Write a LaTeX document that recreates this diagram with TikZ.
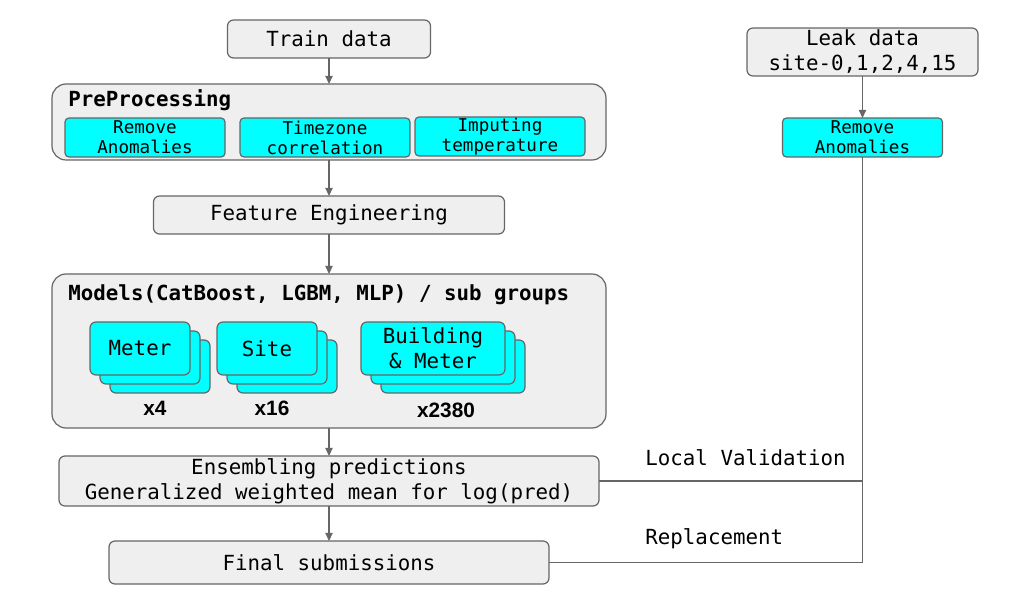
\documentclass[tikz,border=0pt]{standalone}
\usepackage{fontspec}
\setmonofont{DejaVu Sans Mono}
\newfontfamily\countfont{Liberation Sans}
\usepackage{tikz}
\usetikzlibrary{arrows.meta,positioning,shadows}
\definecolor{boxgray}{HTML}{EFEFEF}
\definecolor{edgegray}{HTML}{666666}
\definecolor{boxcyan}{HTML}{00FFFF}
\newcommand{\mainsize}{\fontsize{10.4pt}{12.5pt}\selectfont}
\newcommand{\smallsize}{\fontsize{8.8pt}{10pt}\selectfont}

\begin{document}
\begin{tikzpicture}[
x=0.5pt, y=-0.5pt,
font=\ttfamily\mainsize,
box/.style={draw=edgegray, fill=boxgray, rounded corners=3pt, line width=0.6pt, align=center, inner sep=0pt, outer sep=0pt},
group/.style={draw=edgegray, fill=boxgray, rounded corners=7pt, line width=0.6pt, minimum width=277pt, inner sep=0pt, outer sep=0pt},
subbox/.style={draw=edgegray, fill=boxcyan, rounded corners=2pt, line width=0.6pt, minimum width=80pt, minimum height=19.5pt, align=center, inner sep=0pt, outer sep=0pt, font=\ttfamily\smallsize},
stackbox/.style={draw=edgegray, fill=boxcyan, rounded corners=3pt, line width=0.6pt, minimum height=26.5pt, align=center, inner sep=0pt, outer sep=0pt,
  copy shadow={shadow xshift=10pt, shadow yshift=-9pt, fill=boxcyan, draw=edgegray},
  copy shadow={shadow xshift=5pt, shadow yshift=-4.5pt, fill=boxcyan, draw=edgegray}},
title/.style={font=\ttfamily\bfseries\mainsize, anchor=west, inner sep=0pt},
count/.style={font=\countfont\bfseries\mainsize, inner sep=0pt},
note/.style={anchor=west, inner sep=0pt},
arrow/.style={-{Triangle[length=4pt, width=3.6pt]}, draw=edgegray, line width=0.6pt},
link/.style={draw=edgegray, line width=0.6pt}
]
\useasboundingbox (0,0) rectangle (1014,609);

% main column
\node[box, minimum width=101.5pt, minimum height=19pt] (train) at (329,39) {Train data};
\node[group, minimum height=38pt, below=13pt of train] (pre) {};
\node[title] (pretitle) at ([xshift=8pt, yshift=-8pt]pre.north west) {PreProcessing};
\node[subbox, anchor=south west] (anom) at ([xshift=6.5pt, yshift=1.5pt]pre.south west) {Remove\\Anomalies};
\node[subbox, minimum width=85pt, right=7.5pt of anom] (tz) {Timezone\\correlation};
\node[subbox, minimum width=85pt, right=2.5pt of tz, yshift=0.5pt] (impute) {Imputing\\temperature};

\node[box, minimum width=175.5pt, minimum height=19pt, below=18pt of pre] (feat) {Feature Engineering};

\node[group, minimum height=77pt, below=20pt of feat] (models) {};
\node[title] (modeltitle) at ([xshift=8pt, yshift=-10.5pt]models.north west) {Models(CatBoost, LGBM, MLP) / sub groups};
\node[stackbox, minimum width=50pt, anchor=north west] (meter) at ([xshift=19pt, yshift=-24pt]models.north west) {Meter};
\node[stackbox, minimum width=50pt, right=13.5pt of meter] (site) {Site};
\node[stackbox, minimum width=72pt, right=22pt of site] (bldg) {Building\\\& Meter};
\node[count] (n4) at ([xshift=7.5pt, yshift=-16.5pt]meter.south) {x4};
\node[count] (n16) at ([xshift=2.5pt, yshift=-16.5pt]site.south) {x16};
\node[count] (n2380) at ([xshift=6.5pt, yshift=-17.5pt]bldg.south) {x2380};

\node[box, minimum width=270pt, minimum height=25pt, below=14pt of models] (ens) {Ensembling predictions\\Generalized weighted mean for log(pred)};
\node[box, minimum width=220pt, minimum height=21.5pt, below=17.5pt of ens] (final) {Final submissions};

% leak column
\node[box, minimum width=115.5pt, minimum height=24pt] (leak) at (862.5,52) {Leak data\\site-0,1,2,4,15};
\node[subbox, below=21pt of leak] (leakanom) {Remove\\Anomalies};

\node[note] (localval) at (645,458) {Local Validation};
\node[note] (replace) at (645,539) {Replacement};

\draw[arrow] (train) -- (pre);
\draw[arrow] (pre) -- (feat);
\draw[arrow] (feat) -- (models);
\draw[arrow] (models) -- (ens);
\draw[arrow] (ens) -- (final);
\draw[arrow] (leak) -- (leakanom);
\draw[link] (leakanom.south) |- (final.east);
\draw[link] (ens.east) -| (leakanom.south);
\end{tikzpicture}
\end{document}
